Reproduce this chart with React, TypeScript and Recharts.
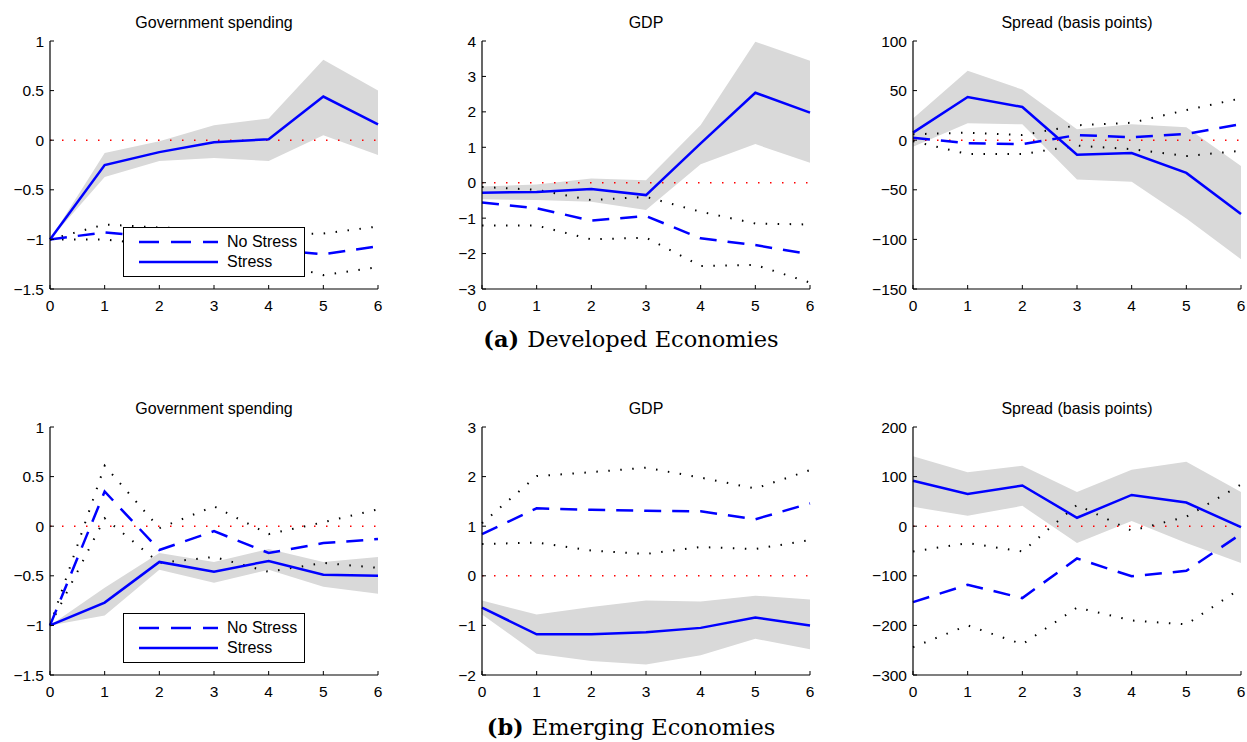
import {
  ComposedChart,
  Area,
  Line,
  XAxis,
  YAxis,
  ReferenceLine,
  Legend,
} from "recharts";

const horizons = [0, 1, 2, 3, 4, 5, 6];

// (a) developed economies
const devGovStress = [-1.0, -0.25, -0.12, -0.02, 0.01, 0.44, 0.16];
const devGovStressLo = [-1.0, -0.37, -0.21, -0.18, -0.21, 0.05, -0.15];
const devGovStressHi = [-1.0, -0.13, -0.01, 0.15, 0.22, 0.81, 0.5];
const devGovNoStress = [-1.0, -0.93, -0.98, -1.03, -1.1, -1.15, -1.07];
const devGovNoStressLo = [-1.0, -1.0, -1.06, -1.12, -1.22, -1.36, -1.28];
const devGovNoStressHi = [-1.0, -0.85, -0.88, -0.9, -0.95, -0.94, -0.87];

const devGdpStress = [-0.28, -0.26, -0.18, -0.35, 1.11, 2.54, 1.98];
const devGdpStressLo = [-0.47, -0.49, -0.54, -0.77, 0.52, 1.09, 0.56];
const devGdpStressHi = [-0.11, -0.05, 0.12, 0.07, 1.63, 3.98, 3.44];
const devGdpNoStress = [-0.56, -0.72, -1.07, -0.94, -1.57, -1.76, -2.02];
const devGdpNoStressLo = [-1.21, -1.21, -1.6, -1.55, -2.35, -2.32, -2.82];
const devGdpNoStressHi = [-0.12, -0.2, -0.49, -0.4, -0.82, -1.15, -1.18];

const devSprStress = [7.6, 43.5, 33.5, -14.6, -12.9, -33, -74.4];
const devSprStressLo = [-6.5, 17, 16, -39.5, -42, -79, -120];
const devSprStressHi = [22, 70, 51, 11, 16, 13, -26];
const devSprNoStress = [2.5, -3, -4, 5.2, 3, 6.2, 16.3];
const devSprNoStressLo = [-1, -14, -14, -5.5, -9, -16, -10.6];
const devSprNoStressHi = [6, 7.6, 5.2, 15, 17.6, 30.4, 42.2];

// (b) emerging economies
const emGovStress = [-1.0, -0.77, -0.36, -0.46, -0.35, -0.49, -0.5];
const emGovStressLo = [-1.0, -0.9, -0.44, -0.57, -0.44, -0.61, -0.68];
const emGovStressHi = [-1.0, -0.62, -0.27, -0.36, -0.23, -0.36, -0.31];
const emGovNoStress = [-1.0, 0.35, -0.24, -0.05, -0.27, -0.17, -0.13];
const emGovNoStressLo = [-1.0, 0.08, -0.37, -0.31, -0.46, -0.37, -0.42];
const emGovNoStressHi = [-1.0, 0.61, -0.02, 0.2, -0.08, 0.04, 0.17];

const emGdpStress = [-0.64, -1.18, -1.18, -1.14, -1.05, -0.84, -1.0];
const emGdpStressLo = [-0.78, -1.57, -1.72, -1.79, -1.6, -1.27, -1.48];
const emGdpStressHi = [-0.5, -0.78, -0.63, -0.5, -0.52, -0.4, -0.48];
const emGdpNoStress = [0.84, 1.36, 1.33, 1.31, 1.3, 1.14, 1.46];
const emGdpNoStressLo = [0.64, 0.67, 0.51, 0.44, 0.58, 0.54, 0.72];
const emGdpNoStressHi = [1.06, 2.01, 2.09, 2.18, 1.98, 1.76, 2.13];

const emSprStress = [91.5, 65, 82, 17, 63, 47.7, -2];
const emSprStressLo = [39, 21, 41, -34, 10.5, -34, -74];
const emSprStressHi = [141, 109, 122, 69, 114, 130, 69];
const emSprNoStress = [-153, -118, -145, -65, -101, -90, -15.6];
const emSprNoStressLo = [-244, -200, -238, -164, -190, -198, -125];
const emSprNoStressHi = [-51, -34, -51, 43, -9, 19, 84];

const govTicks = [-1.5, -1, -0.5, 0, 0.5, 1];
const devGdpTicks = [-3, -2, -1, 0, 1, 2, 3, 4];
const devSprTicks = [-150, -100, -50, 0, 50, 100];
const emGdpTicks = [-2, -1, 0, 1, 2, 3];
const emSprTicks = [-300, -200, -100, 0, 100, 200];

const titles = ["Government spending", "GDP", "Spread (basis points)"];

const BLUE = "#0000ff";
const SANS = "'Liberation Sans', Arial, sans-serif";
const DASH = "17 11";
const DOT = "1.5 10.5";

const PW = 328;
const PH = 248;
const LEFT = 50;
const TOP = 36;
const colX = [50, 482, 913];
const rowY = [41, 427];

const fmt = (v: number) => (v < 0 ? "\u2212" + Math.abs(v) : String(v));

function KeyBox({ payload }: any) {
  const items = (payload || []).filter((e: any) => e.type !== "none");
  return (
    <div
      style={{
        width: 182,
        height: 50,
        boxSizing: "border-box",
        border: "1px solid #000",
        background: "#fff",
        paddingTop: 4,
        fontFamily: SANS,
        fontSize: 16,
      }}
    >
      {items.map((entry: any) => (
        <div
          key={entry.value}
          style={{ display: "flex", alignItems: "center", height: 20 }}
        >
          <svg width={79} height={4} style={{ marginLeft: 15 }}>
            <line
              x1={0}
              y1={2}
              x2={79}
              y2={2}
              stroke={BLUE}
              strokeWidth={2.5}
              strokeDasharray={entry.value === "No Stress" ? "20 12" : undefined}
            />
          </svg>
          <span style={{ marginLeft: 9 }}>{entry.value}</span>
        </div>
      ))}
    </div>
  );
}

type PanelProps = {
  x: number;
  y: number;
  stress: number[];
  lo: number[];
  hi: number[];
  noStress: number[];
  nsLo: number[];
  nsHi: number[];
  ticks: number[];
  legend?: boolean;
};

function Panel(p: PanelProps) {
  const rows = horizons.map((h, i) => ({
    h,
    band: [p.lo[i], p.hi[i]],
    stress: p.stress[i],
    noStress: p.noStress[i],
    nsLo: p.nsLo[i],
    nsHi: p.nsHi[i],
  }));
  const domain = [p.ticks[0], p.ticks[p.ticks.length - 1]];
  const tick = { fontFamily: SANS, fontSize: 15.5, fill: "#000" };
  const axisLine = { stroke: "#000", strokeWidth: 1.2 };
  return (
    <div style={{ position: "absolute", left: p.x - LEFT, top: p.y - TOP }}>
      <ComposedChart
        width={LEFT + PW + 8}
        height={TOP + PH + 30}
        data={rows}
        margin={{ top: TOP, right: 8, bottom: 0, left: 0 }}
      >
        <XAxis
          dataKey="h"
          type="number"
          domain={[0, 6]}
          ticks={horizons}
          interval={0}
          height={30}
          tickSize={-4}
          tickMargin={15}
          tick={tick}
          axisLine={axisLine}
          tickLine={{ stroke: "#000" }}
        />
        <XAxis
          xAxisId="top"
          orientation="top"
          type="number"
          domain={[0, 6]}
          ticks={horizons}
          interval={0}
          height={0}
          tickSize={-4}
          tick={false}
          axisLine={axisLine}
          tickLine={{ stroke: "#000" }}
        />
        <YAxis
          type="number"
          domain={domain}
          ticks={p.ticks}
          interval={0}
          width={LEFT}
          tickSize={-4}
          tickMargin={10}
          tickFormatter={fmt}
          tick={tick}
          axisLine={axisLine}
          tickLine={{ stroke: "#000" }}
        />
        <YAxis
          yAxisId="right"
          orientation="right"
          type="number"
          domain={domain}
          ticks={p.ticks}
          interval={0}
          width={0}
          tickSize={-4}
          tick={false}
          axisLine={axisLine}
          tickLine={{ stroke: "#000" }}
        />
        <Area
          dataKey="band"
          type="linear"
          fill="#d9d9d9"
          fillOpacity={1}
          stroke="none"
          legendType="none"
          isAnimationActive={false}
        />
        <ReferenceLine y={0} stroke="#ff0000" strokeDasharray={DOT} strokeWidth={1.5} />
        <Line
          dataKey="nsHi"
          type="linear"
          stroke="#000"
          strokeWidth={2}
          strokeDasharray={DOT}
          dot={false}
          legendType="none"
          isAnimationActive={false}
        />
        <Line
          dataKey="nsLo"
          type="linear"
          stroke="#000"
          strokeWidth={2}
          strokeDasharray={DOT}
          dot={false}
          legendType="none"
          isAnimationActive={false}
        />
        <Line
          dataKey="noStress"
          name="No Stress"
          type="linear"
          stroke={BLUE}
          strokeWidth={2.5}
          strokeDasharray={DASH}
          dot={false}
          isAnimationActive={false}
        />
        <Line
          dataKey="stress"
          name="Stress"
          type="linear"
          stroke={BLUE}
          strokeWidth={2.5}
          dot={false}
          isAnimationActive={false}
        />
        {p.legend && (
          <Legend
            layout="vertical"
            align="center"
            verticalAlign="middle"
            content={<KeyBox />}
            wrapperStyle={{ left: 123, top: 222, width: 182, height: 50 }}
          />
        )}
      </ComposedChart>
    </div>
  );
}

export default function App() {
  return (
    <div
      style={{
        position: "absolute",
        left: 0,
        top: 0,
        width: 1247,
        height: 742,
        overflow: "hidden",
        background: "#fff",
      }}
    >
      <Panel x={colX[0]} y={rowY[0]} stress={devGovStress} lo={devGovStressLo} hi={devGovStressHi}
        noStress={devGovNoStress} nsLo={devGovNoStressLo} nsHi={devGovNoStressHi} ticks={govTicks} legend />
      <Panel x={colX[1]} y={rowY[0]} stress={devGdpStress} lo={devGdpStressLo} hi={devGdpStressHi}
        noStress={devGdpNoStress} nsLo={devGdpNoStressLo} nsHi={devGdpNoStressHi} ticks={devGdpTicks} />
      <Panel x={colX[2]} y={rowY[0]} stress={devSprStress} lo={devSprStressLo} hi={devSprStressHi}
        noStress={devSprNoStress} nsLo={devSprNoStressLo} nsHi={devSprNoStressHi} ticks={devSprTicks} />
      <Panel x={colX[0]} y={rowY[1]} stress={emGovStress} lo={emGovStressLo} hi={emGovStressHi}
        noStress={emGovNoStress} nsLo={emGovNoStressLo} nsHi={emGovNoStressHi} ticks={govTicks} legend />
      <Panel x={colX[1]} y={rowY[1]} stress={emGdpStress} lo={emGdpStressLo} hi={emGdpStressHi}
        noStress={emGdpNoStress} nsLo={emGdpNoStressLo} nsHi={emGdpNoStressHi} ticks={emGdpTicks} />
      <Panel x={colX[2]} y={rowY[1]} stress={emSprStress} lo={emSprStressLo} hi={emSprStressHi}
        noStress={emSprNoStress} nsLo={emSprNoStressLo} nsHi={emSprNoStressHi} ticks={emSprTicks} />
      <svg
        width={1247}
        height={742}
        style={{ position: "absolute", left: 0, top: 0, pointerEvents: "none" }}
      >
        {rowY.map((y) =>
          colX.map((x, i) => (
            <text
              key={`${x}-${y}`}
              x={x + PW / 2}
              y={y - 13.5}
              textAnchor="middle"
              fontFamily={SANS}
              fontSize={16}
            >
              {titles[i]}
            </text>
          ))
        )}
        <text x={631} y={347} textAnchor="middle" fontFamily="'DejaVu Serif', serif" fontSize={22.5}>
          <tspan fontWeight="bold">(a)</tspan>
          <tspan dx={8}>Developed Economies</tspan>
        </text>
        <text x={631} y={735} textAnchor="middle" fontFamily="'DejaVu Serif', serif" fontSize={22.5}>
          <tspan fontWeight="bold">(b)</tspan>
          <tspan dx={8}>Emerging Economies</tspan>
        </text>
      </svg>
    </div>
  );
}
